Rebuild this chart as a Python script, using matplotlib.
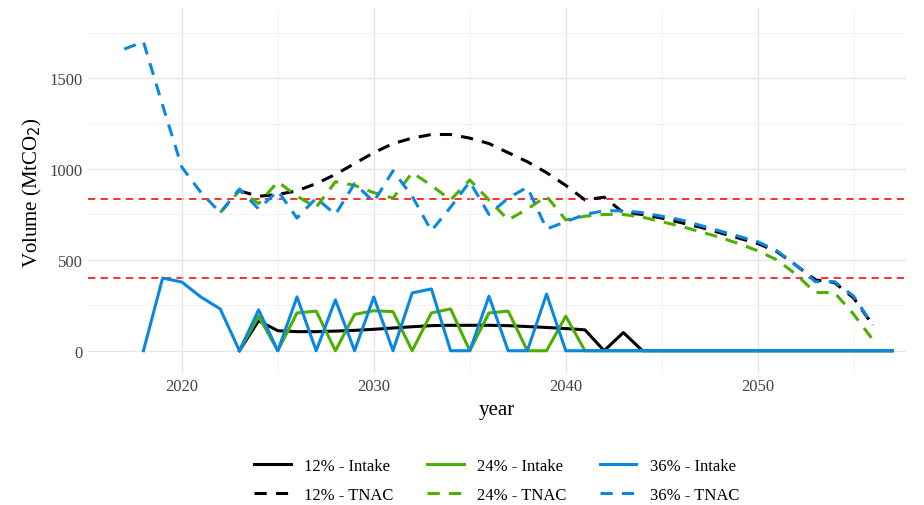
import numpy as np
import matplotlib.pyplot as plt

plt.rcParams['font.family'] = ['Liberation Serif', 'DejaVu Serif']

# intake series
blue_intake_years = np.arange(2018, 2058)
blue_intake = [0, 400, 378, 295, 230, 0, 225, 0, 296, 0, 280, 0, 296, 0, 318, 340, 0, 0, 300, 0,
               0, 312] + [0] * 18
green_intake_years = np.arange(2023, 2058)
green_intake = [0, 190, 0, 208, 218, 0, 200, 220, 215, 0, 208, 230, 0, 208, 218, 0, 0, 190] + [0] * 17
black_intake_years = np.arange(2023, 2058)
black_intake = [0, 165, 110, 105, 105, 108, 112, 118, 125, 132, 138, 140, 140, 140, 138, 133, 128,
                122, 115, 0, 100] + [0] * 14

# TNAC series
black_tnac_years = np.arange(2023, 2057)
black_tnac = [880, 850, 860, 880, 920, 970, 1030, 1090, 1140, 1170, 1190, 1190, 1170, 1140, 1090,
              1040, 980, 910, 830, 845, 760, 750, 730, 705, 680, 650, 620, 590, 545, 470, 390, 375,
              290, 140]
green_tnac_years = np.arange(2022, 2057)
green_tnac = [760, 880, 810, 930, 850, 790, 930, 910, 870, 840, 980, 910, 830, 940, 830, 720, 780,
              850, 720, 740, 750, 750, 735, 710, 685, 655, 625, 590, 550, 500, 420, 320, 320, 200, 60]
blue_tnac_years = np.arange(2017, 2057)
blue_tnac = [1660, 1700, 1350, 1010, 870, 760, 890, 780, 880, 730, 840, 750, 920, 820, 990, 850, 660,
             790, 930, 750, 840, 900, 670, 710, 750, 770, 770, 760, 740, 720, 690, 660, 630, 600,
             550, 470, 380, 380, 300, 140]

thresholds = [833, 400]

black, green, blue = '#000000', '#4daf00', '#0a88e0'

fig, ax = plt.subplots(figsize=(9.24, 5.06), dpi=100)
fig.subplots_adjust(left=0.095, right=0.98, top=0.98, bottom=0.26)

for t in thresholds:
    ax.axhline(t, color='#ff2020', linestyle=(0, (4, 3)), linewidth=1.3, zorder=1)

l1, = ax.plot(black_intake_years, black_intake, color=black, lw=2.2, label='12% - Intake')
l2, = ax.plot(green_intake_years, green_intake, color=green, lw=2.2, label='24% - Intake')
l3, = ax.plot(blue_intake_years, blue_intake, color=blue, lw=2.2, label='36% - Intake')
l4, = ax.plot(black_tnac_years, black_tnac, color=black, lw=2.2, ls=(0, (4, 3)), label='12% - TNAC')
l5, = ax.plot(green_tnac_years, green_tnac, color=green, lw=2.2, ls=(0, (4, 3)), label='24% - TNAC')
l6, = ax.plot(blue_tnac_years, blue_tnac, color=blue, lw=2.2, ls=(0, (4, 3)), label='36% - TNAC')

ax.set_xlim(2015.1, 2057.7)
ax.set_ylim(-125, 1880)
ax.set_xticks([2020, 2030, 2040, 2050])
ax.set_xticks([2025, 2035, 2045, 2055], minor=True)
ax.set_yticks([0, 500, 1000, 1500])
ax.set_yticks([250, 750, 1250, 1750], minor=True)
ax.grid(which='major', color='#e6e6e6', lw=1.0)
ax.grid(which='minor', color='#f2f2f2', lw=0.7)
ax.tick_params(which='both', length=0, labelsize=12, colors='#444444')
for s in ax.spines.values():
    s.set_visible(False)
ax.set_xlabel('year', fontsize=15)
ax.set_ylabel('Volume (MtCO$_2$)', fontsize=15)

handles = [l1, l4, l2, l5, l3, l6]
ax.legend(handles=handles, labels=[h.get_label() for h in handles],
          loc='upper center', bbox_to_anchor=(0.5, -0.19), ncol=3, frameon=False,
          fontsize=12, handlelength=2.2, columnspacing=2.0, labelspacing=0.8)

fig.savefig('out.png', dpi=100)
